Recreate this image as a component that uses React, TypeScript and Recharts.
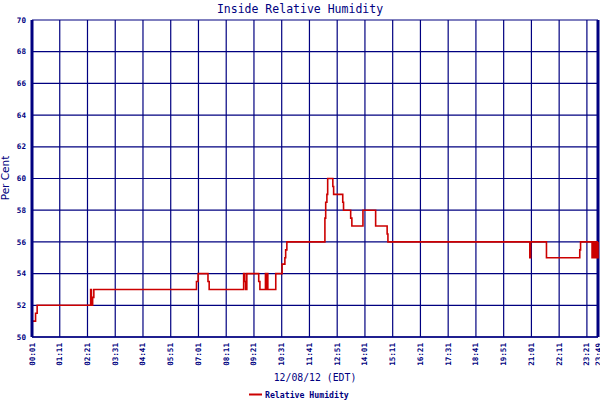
import React from 'react';
import { LineChart, Line, XAxis, YAxis, CartesianGrid, ReferenceLine } from 'recharts';

// minutes since midnight where the reading changes, and the reading from that minute on
const changeMinutes = [
  1, 10, 14, 149, 151, 154, 157, 416, 420, 445, 448, 535, 538, 540, 543, 573, 576,
  590, 592, 594, 596, 616, 632, 639, 641, 644, 740, 742, 745, 747, 760, 762, 785,
  787, 805, 808, 836, 868, 897, 899, 1257, 1259, 1299, 1383, 1385, 1414, 1416, 1417,
  1419, 1420, 1422, 1424, 1426, 1427, 1429,
];
const humidity = [
  51, 51.5, 52, 53, 52, 52.5, 53, 53.5, 54, 53.5, 53, 54, 53.5, 53, 54, 53.5, 53,
  54, 53, 54, 53, 54, 54.6, 55, 55.5, 56, 57.5, 58.5, 59, 60, 59.5, 59, 58.5,
  58, 57.5, 57, 58, 57, 56.5, 56, 55, 56, 55, 55.5, 56, 55, 56, 55,
  56, 55, 56, 55, 56, 55, 56,
];

const timeTicks = [1, 71, 141, 211, 281, 351, 421, 491, 561, 631, 701, 771, 841, 911, 981, 1051, 1121, 1191, 1261, 1331, 1401, 1429];
const percentTicks = [50, 52, 54, 56, 58, 60, 62, 64, 66, 68, 70];

const NAVY = '#000080';
const RED = '#cc0000';
const MONO = '"DejaVu Sans Mono", "Liberation Mono", monospace';

const data = changeMinutes.map((minute, i) => ({ minute, rh: humidity[i] }));

const fmtTime = (m: number) => {
  const h = Math.floor(m / 60);
  const mm = m % 60;
  return `${String(h).padStart(2, '0')}:${String(mm).padStart(2, '0')}`;
};

const TimeTick = ({ x, y, payload }: any) => (
  <text
    x={x}
    y={y}
    transform={`rotate(-90 ${x} ${y})`}
    textAnchor="end"
    dominantBaseline="central"
    fill={NAVY}
    fontFamily={MONO}
    fontWeight="bold"
    fontSize={7.6}
  >
    {fmtTime(payload.value)}
  </text>
);

export default function App() {
  return (
    <div style={{ position: 'absolute', left: 0, top: 0, width: 600, height: 400, background: '#fff' }}>
      <LineChart width={600} height={400} data={data} margin={{ top: 20, right: 2, bottom: 0, left: 0 }}>
        <CartesianGrid stroke={NAVY} strokeWidth={1.2} />
        <XAxis
          dataKey="minute"
          type="number"
          domain={[1, 1429]}
          ticks={timeTicks}
          interval={0}
          height={63}
          tickLine={false}
          tickSize={4}
          tickMargin={2}
          axisLine={{ stroke: NAVY, strokeWidth: 1.5 }}
          tick={<TimeTick />}
        />
        <YAxis
          type="number"
          domain={[50, 70]}
          ticks={percentTicks}
          interval={0}
          width={32}
          tickLine={false}
          tickSize={4}
          tickMargin={2}
          axisLine={{ stroke: NAVY, strokeWidth: 3 }}
          tick={{ fill: NAVY, fontFamily: MONO, fontWeight: 'bold', fontSize: 7.6 }}
        />
        <ReferenceLine x={1429} stroke={NAVY} strokeWidth={3} />
        <Line
          type="stepAfter"
          dataKey="rh"
          stroke={RED}
          strokeWidth={1.6}
          dot={false}
          isAnimationActive={false}
        />
      </LineChart>
      <svg width={600} height={400} style={{ position: 'absolute', left: 0, top: 0, pointerEvents: 'none' }}>
        <text x={300} y={13} textAnchor="middle" fill={NAVY} fontFamily={MONO} fontSize={11.5}>
          Inside Relative Humidity
        </text>
        <text
          x={9}
          y={178}
          transform="rotate(-90 9 178)"
          textAnchor="middle"
          fill={NAVY}
          fontFamily='"DejaVu Sans", sans-serif'
          fontSize={10.5}
        >
          Per Cent
        </text>
        <text x={315} y={381} textAnchor="middle" fill={NAVY} fontFamily={MONO} fontSize={9.8}>
          12/08/12 (EDT)
        </text>
        <line x1={249} y1={394.5} x2={262} y2={394.5} stroke={RED} strokeWidth={2} />
        <text x={265} y={397.5} fill={NAVY} fontFamily={MONO} fontWeight="bold" fontSize={8.2}>
          Relative Humidity
        </text>
      </svg>
    </div>
  );
}
